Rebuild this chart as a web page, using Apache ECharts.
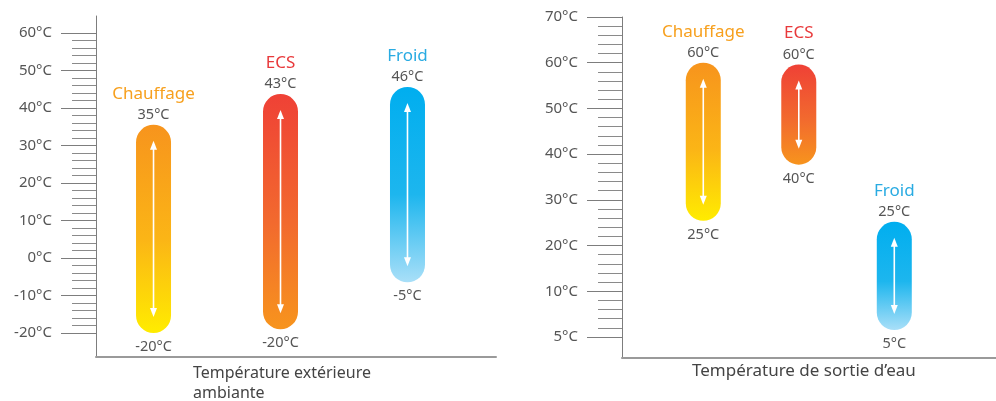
<!DOCTYPE html>
<html>
<head>
<meta charset="utf-8">
<script src="https://cdn.jsdelivr.net/npm/echarts@6/dist/echarts.min.js"></script>
<style>
  html, body { margin: 0; padding: 0; background: #fff; }
  #chart { width: 996px; height: 401px; }
</style>
</head>
<body>
<div id="chart"></div>
<script>
// modes (same order in both panels)
const modes = ['Chauffage', 'ECS', 'Froid']
const modeColors = ['#F7A01E', '#E8393B', '#29ABE2']
const gradients = [
    ['#F7941D', '#FBB516', '#FFEC00'],
    ['#EF4136', '#F26A2E', '#F7941D'],
    ['#00AEEF', '#1DB6EE', '#A9DFF8']
]

// left panel: outdoor temperature range (axis positions)
const leftLow = [-20, -19, -6.5]
const leftHigh = [35.5, 43.7, 45.6]
const leftLowText = ['-20°C', '-20°C', '-5°C']
const leftHighText = ['35°C', '43°C', '46°C']
const leftTicks = [-20, -10, 0, 10, 20, 30, 40, 50, 60]

// right panel: water outlet temperature (bottom tick is labelled 5°C)
const rightLow = [25.4, 37.7, 1.5]
const rightHigh = [60, 59.6, 25.2]
const rightLowText = ['25°C', '40°C', '5°C']
const rightHighText = ['60°C', '60°C', '25°C']
const rightTicks = [0, 10, 20, 30, 40, 50, 60, 70]
const rightTickLabels = ['5°C', '10°C', '20°C', '30°C', '40°C', '50°C', '60°C', '70°C']

const font = '"Noto Sans", sans-serif'
const axisGrey = '#7d7d7d'

function minorOf(ticks) {
    const out = []
    for (let i = 0; i < ticks.length - 1; i++) {
        for (let k = 1; k < 5; k++) out.push(ticks[i] + (ticks[i + 1] - ticks[i]) * k / 5)
    }
    return out
}

function renderRange(lowText, highText) {
    return function (params, api) {
        const i = api.value(3)
        const top = api.coord([api.value(0), api.value(2)])
        const bot = api.coord([api.value(0), api.value(1)])
        const cx = top[0], w = 35
        const y0 = top[1], y1 = bot[1]
        const a0 = y0 + 16, a1 = y1 - 16
        return {
            type: 'group',
            children: [
                {
                    type: 'rect',
                    shape: {x: cx - w / 2, y: y0, width: w, height: y1 - y0, r: w / 2},
                    style: {
                        fill: new echarts.graphic.LinearGradient(0, 0, 0, 1, [
                            {offset: 0, color: gradients[i][0]},
                            {offset: 0.55, color: gradients[i][1]},
                            {offset: 1, color: gradients[i][2]}
                        ])
                    }
                },
                {
                    type: 'line',
                    shape: {x1: cx, y1: a0 + 6, x2: cx, y2: a1 - 6},
                    style: {stroke: '#fff', lineWidth: 1.6}
                },
                {
                    type: 'polygon',
                    shape: {points: [[cx, a0], [cx - 3.5, a0 + 9], [cx + 3.5, a0 + 9]]},
                    style: {fill: '#fff'}
                },
                {
                    type: 'polygon',
                    shape: {points: [[cx, a1], [cx - 3.5, a1 - 9], [cx + 3.5, a1 - 9]]},
                    style: {fill: '#fff'}
                },
                {
                    type: 'text',
                    style: {
                        text: highText[i], x: cx, y: y0 - 10, align: 'center', verticalAlign: 'middle',
                        fill: '#555', font: '14.5px ' + font
                    }
                },
                {
                    type: 'text',
                    style: {
                        text: modes[i], x: cx, y: y0 - 31, align: 'center', verticalAlign: 'middle',
                        fill: modeColors[i], font: '17px ' + font
                    }
                },
                {
                    type: 'text',
                    style: {
                        text: lowText[i], x: cx, y: y1 + 14, align: 'center', verticalAlign: 'middle',
                        fill: '#555', font: '14.5px ' + font
                    }
                }
            ]
        }
    }
}

function yMajor(grid, min, max, ticks, fmt) {
    return {
        type: 'value', gridIndex: grid, position: 'left', min: min, max: max,
        axisLine: {show: true, lineStyle: {color: axisGrey, width: 1}},
        axisTick: {show: true, customValues: ticks, length: 35, lineStyle: {color: axisGrey}},
        axisLabel: {
            customValues: ticks, margin: 44, color: '#555', fontSize: 15, fontFamily: font,
            formatter: fmt
        },
        splitLine: {show: false}
    }
}

function yMinor(grid, min, max, ticks) {
    return {
        type: 'value', gridIndex: grid, position: 'left', min: min, max: max,
        axisLine: {show: false},
        axisTick: {show: true, customValues: minorOf(ticks), length: 24, lineStyle: {color: '#8a8a8a'}},
        axisLabel: {show: false},
        splitLine: {show: false}
    }
}

function xAxis(grid, min, max) {
    return {
        type: 'value', gridIndex: grid, min: min, max: max,
        axisLine: {show: true, onZero: false, lineStyle: {color: '#9a9a9a', width: 2}},
        axisTick: {show: false}, axisLabel: {show: false}, splitLine: {show: false}
    }
}

const chart = echarts.init(document.getElementById('chart'))

chart.setOption({
    animation: false,
    grid: [
        {left: 96, top: 16, width: 400, bottom: 44},
        {left: 622, top: 17, right: 0, bottom: 43}
    ],
    xAxis: [xAxis(0, 0.547, 3.697), xAxis(1, 0.149, 4.065)],
    yAxis: [
        yMajor(0, -26.4, 64.5, leftTicks, (v) => v + '°C'),
        yMinor(0, -26.4, 64.5, leftTicks),
        yMajor(1, -4.6, 70, rightTicks, (v) => rightTickLabels[rightTicks.indexOf(v)]),
        yMinor(1, -4.6, 70, rightTicks)
    ],
    series: [
        {
            type: 'custom', xAxisIndex: 0, yAxisIndex: 0, clip: false,
            renderItem: renderRange(leftLowText, leftHighText),
            data: modes.map((m, i) => [i + 1, leftLow[i], leftHigh[i], i])
        },
        {
            type: 'custom', xAxisIndex: 1, yAxisIndex: 2, clip: false,
            renderItem: renderRange(rightLowText, rightHighText),
            data: modes.map((m, i) => [i + 1, rightLow[i], rightHigh[i], i])
        }
    ],
    graphic: [
        {
            type: 'text', left: 193, top: 363,
            style: {text: 'Température extérieure\nambiante', fill: '#444', font: '16px ' + font, lineHeight: 20}
        },
        {
            type: 'text', left: 692, top: 363,
            style: {text: 'Température de sortie d\u2019eau', fill: '#444', font: '17px ' + font}
        }
    ]
})
</script>
</body>
</html>
